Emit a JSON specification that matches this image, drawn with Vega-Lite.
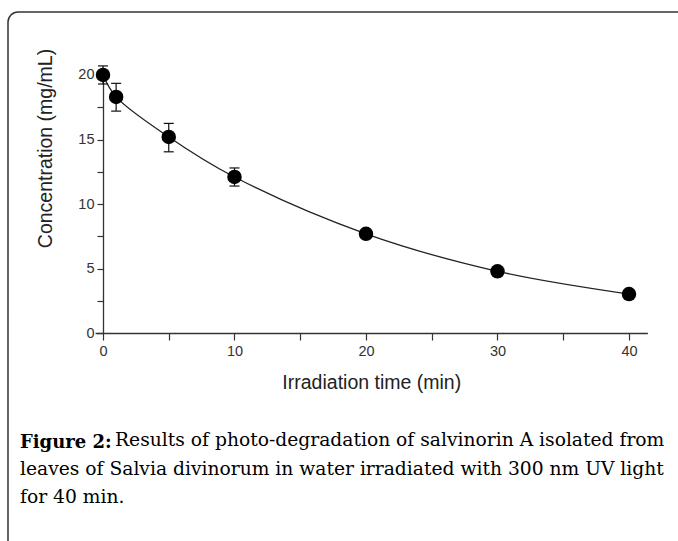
{
  "$schema": "https://vega.github.io/schema/vega-lite/v6.json",
  "width": 740,
  "height": 560,
  "autosize": {"type": "none"},
  "padding": {"left": 8, "top": 12, "right": 0, "bottom": 0},
  "background": "white",
  "config": {
    "view": {"stroke": "#333333", "strokeWidth": 1.5, "cornerRadius": 10, "fill": "white"},
    "axis": {
      "labelFont": "Liberation Sans",
      "titleFont": "Liberation Sans",
      "labelColor": "#333333",
      "titleColor": "#222222",
      "domainColor": "#333333",
      "tickColor": "#333333",
      "domainWidth": 1.3,
      "tickWidth": 1.2,
      "grid": false,
      "titleFontWeight": "normal",
      "labelFontSize": 14.5,
      "titleFontSize": 19.5,
      "labelFlush": false
    }
  },
  "data": {
    "values": [
      {"t": 0, "c": 20.0, "lo": 19.3, "hi": 20.7},
      {"t": 1, "c": 18.3, "lo": 17.2, "hi": 19.35},
      {"t": 5, "c": 15.2, "lo": 14.05, "hi": 16.25},
      {"t": 10, "c": 12.1, "lo": 11.4, "hi": 12.8},
      {"t": 20, "c": 7.7, "lo": null, "hi": null},
      {"t": 30, "c": 4.8, "lo": null, "hi": null},
      {"t": 40, "c": 3.04, "lo": null, "hi": null}
    ]
  },
  "title": {
    "text": "Figure 2:",
    "subtitle": [
      "\u200b\u00a0\u00a0\u00a0\u00a0\u00a0\u00a0\u00a0\u00a0\u00a0\u00a0\u00a0\u00a0\u00a0\u00a0\u00a0\u00a0Results of photo-degradation of salvinorin A isolated from",
      "leaves of Salvia divinorum in water irradiated with 300 nm UV light",
      "for 40 min."
    ],
    "orient": "bottom",
    "anchor": "start",
    "frame": "group",
    "offset": -138,
    "baseline": "top",
    "dx": 12,
    "font": "DejaVu Serif",
    "fontSize": 18,
    "fontWeight": "bold",
    "color": "black",
    "subtitleFont": "DejaVu Serif",
    "subtitleFontSize": 18.7,
    "subtitleFontWeight": "normal",
    "subtitleColor": "black",
    "subtitleLineHeight": 28.5,
    "subtitlePadding": -21
  },
  "encoding": {
    "x": {
      "field": "t",
      "type": "quantitative",
      "scale": {"domain": [-0.6, 41.4], "range": [87.1, 639.4], "nice": false, "zero": false},
      "axis": {
        "values": [0, 5, 10, 15, 20, 25, 30, 35, 40],
        "labelExpr": "datum.value % 10 === 0 ? datum.label : ''",
        "offset": -239,
        "tickSize": 7,
        "labelPadding": 4,
        "title": "Irradiation time (min)",
        "titlePadding": 16
      }
    },
    "y": {
      "field": "c",
      "type": "quantitative",
      "scale": {"domain": [0, 20.6], "range": [321.3, 55.2], "nice": false, "zero": false},
      "axis": {
        "values": [0, 2.5, 5, 7.5, 10, 12.5, 15, 17.5, 20],
        "labelExpr": "datum.value % 5 === 0 ? datum.label : ''",
        "offset": -95,
        "tickSize": 6,
        "labelPadding": 3,
        "title": "Concentration (mg/mL)",
        "titleAngle": 270,
        "titleBaseline": "middle",
        "titleX": -58,
        "titleY": 136
      }
    }
  },
  "layer": [
    {
      "mark": {"type": "line", "interpolate": "catmull-rom", "color": "#222222", "strokeWidth": 1.3}
    },
    {
      "transform": [{"filter": "datum.lo != null"}],
      "mark": {"type": "rule", "color": "#111111", "strokeWidth": 1.2},
      "encoding": {
        "y": {"field": "lo", "type": "quantitative"},
        "y2": {"field": "hi"}
      }
    },
    {
      "transform": [{"filter": "datum.lo != null"}],
      "mark": {"type": "tick", "orient": "horizontal", "size": 10, "thickness": 1.2, "color": "#111111", "opacity": 1},
      "encoding": {"y": {"field": "lo", "type": "quantitative"}}
    },
    {
      "transform": [{"filter": "datum.lo != null"}],
      "mark": {"type": "tick", "orient": "horizontal", "size": 10, "thickness": 1.2, "color": "#111111", "opacity": 1},
      "encoding": {"y": {"field": "hi", "type": "quantitative"}}
    },
    {
      "mark": {"type": "circle", "size": 210, "color": "black", "opacity": 1}
    }
  ]
}
